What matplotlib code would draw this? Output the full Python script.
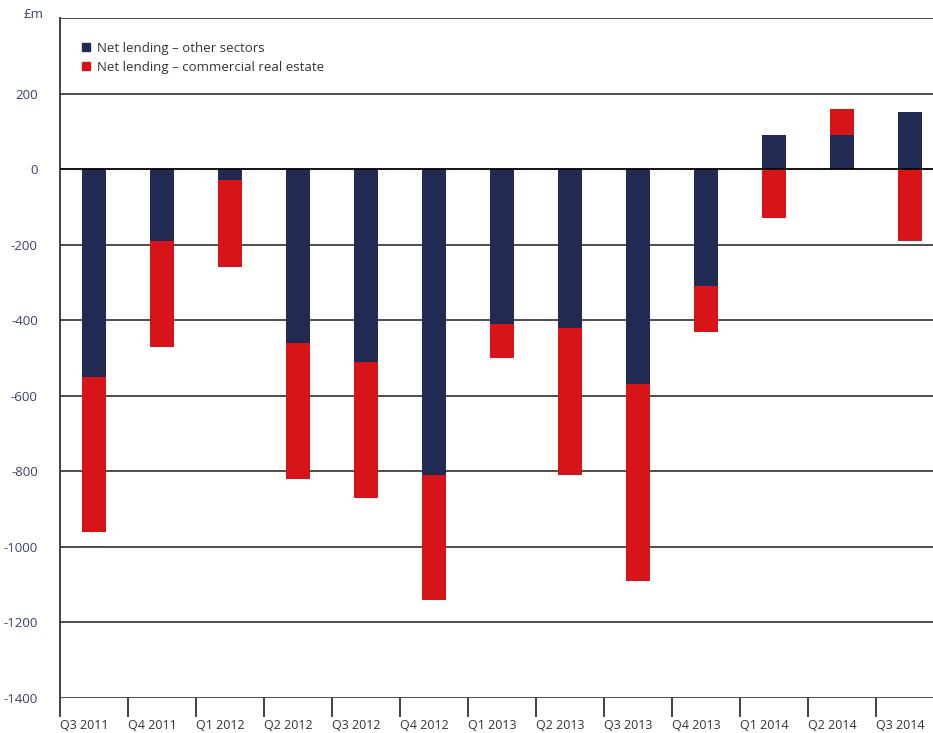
import numpy as np
import matplotlib.pyplot as plt
from matplotlib.lines import Line2D

# Data (£m)
quarters = ['Q3 2011', 'Q4 2011', 'Q1 2012', 'Q2 2012', 'Q3 2012', 'Q4 2012',
            'Q1 2013', 'Q2 2013', 'Q3 2013', 'Q4 2013', 'Q1 2014', 'Q2 2014', 'Q3 2014']
other_sectors = [-550, -190, -30, -460, -510, -810, -410, -420, -570, -310, 90, 90, 150]
commercial_re = [-410, -280, -230, -360, -360, -330, -90, -390, -520, -120, -130, 70, -190]
yticks = [200, 0, -200, -400, -600, -800, -1000, -1200, -1400]

navy = '#202a52'
red = '#d71418'
plt.rcParams['font.family'] = ['Open Sans', 'DejaVu Sans']

fig = plt.figure(figsize=(9.33, 7.33), dpi=100)
ax = fig.add_axes([60 / 933, 35 / 733, 884 / 933, 680 / 733])

x = np.arange(len(quarters))
other = np.array(other_sectors)
cre = np.array(commercial_re)
# stack red on the navy bar when both have the same sign
bottom = np.where(np.sign(other) == np.sign(cre), other, 0)

ax.bar(x, other, width=0.35, color=navy, zorder=3)
ax.bar(x, cre, width=0.35, bottom=bottom, color=red, zorder=3)

ax.set_xlim(-0.5, len(quarters) - 0.5)
ax.set_ylim(-1400, 400)

# gridlines
for v in [400] + yticks:
    if v == 0:
        ax.axhline(v, color='black', lw=1.3, zorder=4)
    else:
        ax.axhline(v, color='#4d4d4d', lw=1.4, zorder=1)

ax.set_yticks(yticks)
ax.set_yticklabels([str(v) for v in yticks], color='#3b4266', fontsize=9.5)
ax.tick_params(axis='y', length=0, pad=16)

ax.set_xticks(x - 0.5)
ax.set_xticklabels(quarters, ha='left', color='#333333', fontsize=9)
ax.tick_params(axis='x', length=14, width=1.3, color='#333333', pad=1)

for s in ['top', 'right', 'bottom']:
    ax.spines[s].set_visible(False)
ax.spines['left'].set_linewidth(1.3)
ax.spines['left'].set_color('#333333')

fig.text(44 / 933, 1 - 14 / 733, '£m', ha='right', va='center', color='#3b4266', fontsize=9.5)

handles = [Line2D([], [], marker='s', ls='', color=navy, markersize=6),
           Line2D([], [], marker='s', ls='', color=red, markersize=6)]
ax.legend(handles, ['Net lending – other sectors', 'Net lending – commercial real estate'],
          loc='upper left', bbox_to_anchor=(0.01, 0.982), frameon=False, fontsize=9.5,
          handlelength=0.8, handletextpad=0.4, labelspacing=0.45, labelcolor='#333333')

fig.savefig('out.png', dpi=100)
